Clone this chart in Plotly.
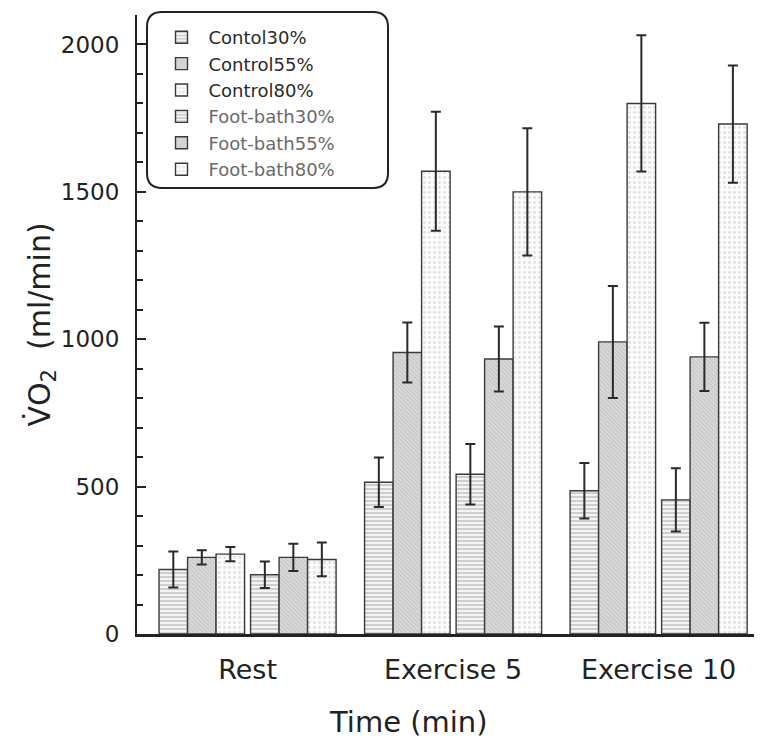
import plotly.graph_objects as go

categories = ["Rest", "Exercise 5", "Exercise 10"]
x_pos = [0, 1, 2]

series_names = ["Contol30%", "Control55%", "Control80%",
                "Foot-bath30%", "Foot-bath55%", "Foot-bath80%"]
control30 = [219, 515, 486]
control30_err = [61, 84, 94]
control55 = [260, 955, 991]
control55_err = [24, 102, 190]
control80 = [271, 1570, 1800]
control80_err = [24, 202, 231]
foot30 = [201, 542, 455]
foot30_err = [45, 103, 107]
foot55 = [260, 933, 940]
foot55_err = [46, 110, 116]
foot80 = [253, 1500, 1730]
foot80_err = [57, 216, 199]

y_ticks = [0, 500, 1000, 1500, 2000]
x_title = "Time (min)"
y_title = "V\u0307O<sub>2</sub>  (ml/min)"

values = [control30, control55, control80, foot30, foot55, foot80]
errors = [control30_err, control55_err, control80_err, foot30_err, foot55_err, foot80_err]

# styling
FONT = "DejaVu Sans"
bar_w = 0.1387
offsets = [-0.4307, -0.2920, -0.1533, 0.0146, 0.1533, 0.2920]
patterns = [
    dict(shape="-", fgcolor="#a0a0a0", bgcolor="#f4f4f4", size=4, solidity=0.45),
    dict(shape="\\", fgcolor="#a8a8a8", bgcolor="#dadada", size=3, solidity=0.35),
    dict(shape=".", fgcolor="#c4c4c4", bgcolor="#fcfcfc", size=5, solidity=0.25),
]
name_colors = ["#2a2a2a"] * 3 + ["#6a6a6a"] * 3

fig = go.Figure()
for i, (nm, v, e) in enumerate(zip(series_names, values, errors)):
    p = patterns[i % 3]
    fig.add_trace(go.Bar(
        x=x_pos, y=v, name=f'<span style="color:{name_colors[i]}">{nm}</span>',
        width=bar_w, offset=offsets[i],
        marker=dict(color=p["bgcolor"], line=dict(color="#3a3a3a", width=1.4),
                    pattern=p),
        error_y=dict(type="data", array=e, visible=True, color="#2a2a2a",
                     thickness=2, width=5),
    ))

# rounded legend frame (paper coords)
x0, x1 = 0.016, 0.4016
y0, y1 = 0.7205, 1.005
rx, ry = 0.024, 0.0242
path = (f"M {x0+rx},{y1} L {x1-rx},{y1} Q {x1},{y1} {x1},{y1-ry} "
        f"L {x1},{y0+ry} Q {x1},{y0} {x1-rx},{y0} L {x0+rx},{y0} "
        f"Q {x0},{y0} {x0},{y0+ry} L {x0},{y1-ry} Q {x0},{y1} {x0+rx},{y1} Z")
fig.add_shape(type="path", path=path, xref="paper", yref="paper",
              line=dict(color="#222222", width=2), fillcolor="rgba(0,0,0,0)", layer="above")

# x-axis title sits left of the plot centre in the reference -> annotation
fig.add_annotation(text=x_title, xref="paper", yref="paper", x=0.4336, y=-0.142,
                   xanchor="center", yanchor="middle", showarrow=False,
                   font=dict(size=29, family=FONT, color="#222222"))

# page has an 8px body margin: figure is offset accordingly
fig.update_layout(
    width=754, height=743,
    margin=dict(l=129, r=0, t=7, b=117),
    plot_bgcolor="white", paper_bgcolor="white",
    barmode="overlay",
    font=dict(family=FONT, color="#222222"),
    showlegend=True,
    legend=dict(x=0.028, y=0.9935, xanchor="left", yanchor="top",
                bgcolor="rgba(0,0,0,0)", borderwidth=0,
                font=dict(size=18, family=FONT), tracegroupgap=0, itemwidth=44),
    xaxis=dict(range=[-0.538, 2.503], tickvals=x_pos, ticktext=categories,
               showgrid=False, zeroline=False, showline=True,
               linecolor="#222222", linewidth=3,
               ticks="outside", ticklen=10, tickcolor="rgba(0,0,0,0)",
               tickfont=dict(size=27, family=FONT, color="#222222")),
    yaxis=dict(range=[0, 2100], tickvals=y_ticks,
               showgrid=False, zeroline=False, showline=True,
               linecolor="#222222", linewidth=2,
               ticks="inside", ticklen=9, tickwidth=2, tickcolor="#222222",
               ticklabelstandoff=11,
               minor=dict(dtick=100, ticks="inside", ticklen=6, tickwidth=2, tickcolor="#222222"),
               tickfont=dict(size=23, family=FONT, color="#222222"),
               title=dict(text=y_title,
                          font=dict(size=30, family=FONT, color="#222222"),
                          standoff=0)),
)

fig.write_html("out.html")
